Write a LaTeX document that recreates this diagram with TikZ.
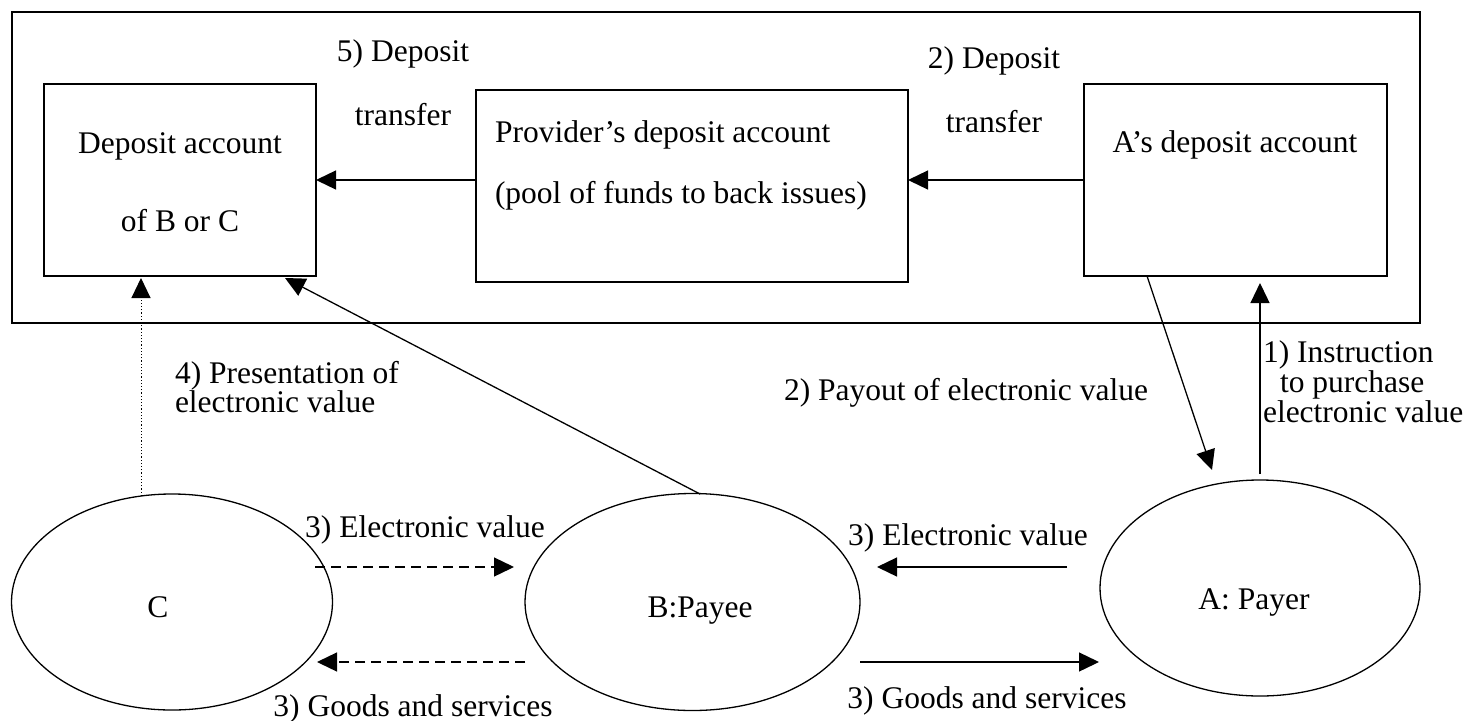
\documentclass[tikz,border=0pt]{standalone}
\usepackage{fontspec}
\setmainfont{Liberation Serif}
\usetikzlibrary{arrows.meta,shapes.geometric}
\begin{document}
\begin{tikzpicture}[x=1pt,y=-1pt,
  every node/.style={font=\fontsize{31.5}{34}\selectfont, inner sep=0pt, outer sep=0pt},
  acct/.style={draw, line width=1.3pt, rectangle},
  party/.style={draw, line width=1.3pt, ellipse},
  arr/.style={line width=1.3pt, -{Triangle[length=20pt,width=19pt]}},
  dasharr/.style={arr, dash pattern=on 10pt off 6pt},
  dotarr/.style={arr, line width=1pt, dash pattern=on 1.2pt off 2pt},
  lbl/.style={anchor=base},
  lbll/.style={anchor=base west},
  multi/.style={anchor=north west, align=left, font=\fontsize{31.5}{29.6}\selectfont},
]
\useasboundingbox (0,0) rectangle (1471,720);
% frame and accounts
\node[draw, line width=2pt, minimum width=1408, minimum height=311] (frame) at (716,167.5) {};
\node[acct, minimum width=272, minimum height=192] (dep) at (180,180) {};
\node[acct, minimum width=432, minimum height=192] (prov) at (692,186) {};
\node[acct, minimum width=303, minimum height=192] (abox) at (1235.5,180) {};
% parties
\node[party, minimum width=321, minimum height=216] (C) at (172,602) {};
\node[party, minimum width=335, minimum height=217] (B) at (692.5,602) {};
\node[party, minimum width=320, minimum height=216] (A) at (1260,588) {};
% texts in boxes and ellipses
\node[lbl] (tdep1) at (180,153) {Deposit account};
\node[lbl] (tdep2) at (180,231) {of B or C};
\node[lbll] (tprov1) at (495,142) {Provider’s deposit account};
\node[lbll] (tprov2) at (495,203) {(pool of funds to back issues)};
\node[lbl] (tabox) at (1235,152) {A’s deposit account};
\node[lbl] (tC) at (158,617) {C};
\node[lbl] (tB) at (700,617) {B:Payee};
\node[lbl] (tA) at (1254,609) {A: Payer};
% connector labels
\node[lbl] (l5a) at (403,61) {5) Deposit};
\node[lbl] (l5b) at (403,125) {transfer};
\node[lbl] (l2a) at (994,68) {2) Deposit};
\node[lbl] (l2b) at (994,132) {transfer};
\node[multi] (l4) at (175,361) {4) Presentation of\\electronic value};
\node[lbl] (l2p) at (966,400) {2) Payout of electronic value};
\node[multi] (l1) at (1263,341) {1) Instruction\\\hspace*{17pt}to purchase\\electronic value};
\node[lbl] (l3ev1) at (425,537) {3) Electronic value};
\node[lbl] (l3gs1) at (413,716) {3) Goods and services};
\node[lbl] (l3ev2) at (968,545) {3) Electronic value};
\node[lbl] (l3gs2) at (987,708) {3) Goods and services};
% connectors
\draw[arr] (prov.west |- dep.east) -- (dep.east);
\draw[arr] (abox.west) -- (abox.west -| prov.east);
\coordinate (dtop) at (141,496);
\coordinate (dbot) at (141,278);
\draw[dotarr] (dtop) -- (dbot);
\coordinate (btop) at (700,494);
\coordinate (depin) at (285,278);
\draw[arr] (btop) -- (depin);
\coordinate (pout) at (1147,276);
\coordinate (pin) at (1212,470);
\draw[arr] (pout) -- (pin);
\coordinate (ins) at (1260,474);
\draw[arr, shorten >=7pt] (ins) -- (ins |- abox.south);
\coordinate (cb1) at (315,567);
\coordinate (cb2) at (514,567);
\draw[dasharr] (cb1) -- (cb2);
\coordinate (bc1) at (525,662);
\coordinate (bc2) at (317,662);
\draw[dasharr] (bc1) -- (bc2);
\coordinate (ab1) at (1067,567);
\coordinate (ab2) at (877,567);
\draw[arr] (ab1) -- (ab2);
\coordinate (ba1) at (860,662);
\coordinate (ba2) at (1099,662);
\draw[arr] (ba1) -- (ba2);
\end{tikzpicture}
\end{document}
